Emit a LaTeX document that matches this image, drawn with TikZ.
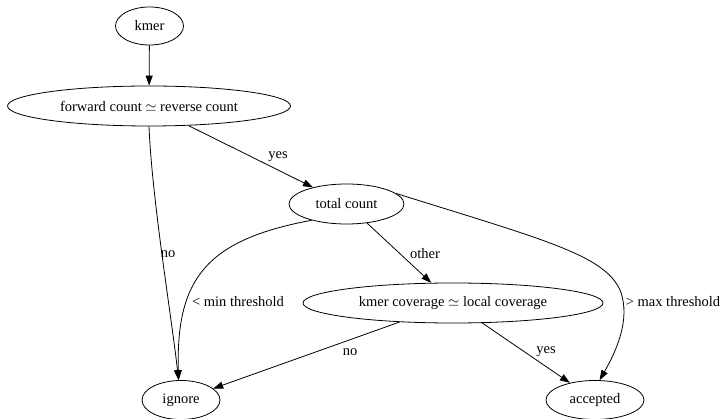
\documentclass[tikz,border=0pt]{standalone}
\usepackage{fontspec}
\setmainfont{Liberation Serif}
\usetikzlibrary{arrows.meta,shapes.geometric}
\begin{document}
\begin{tikzpicture}[x=1pt,y=-1pt,
  st/.style={ellipse,draw,line width=0.8pt,inner sep=0pt,font=\fontsize{14.5}{16}\selectfont},
  edge/.style={line width=0.8pt,-{Triangle[length=10pt,width=7pt]}},
  lbl/.style={font=\fontsize{14.5}{16}\selectfont,inner sep=0pt}]
\useasboundingbox (0,0) rectangle (727,419);
\node[st,minimum width=68pt,minimum height=38pt] (km) at (149.5,26) {kmer};
\node[st,minimum width=283pt,minimum height=40pt] (fw) at (149,106) {forward count $\simeq$ reverse count};
\node[st,minimum width=115pt,minimum height=40pt] (tc) at (346.5,204) {total count};
\node[st,minimum width=300pt,minimum height=40pt] (kc) at (453,303) {kmer coverage $\simeq$ local coverage};
\node[st,minimum width=98pt,minimum height=39pt] (ac) at (595,400) {accepted};
\node[st,minimum width=78pt,minimum height=39pt] (ig) at (181,400) {ignore};
\draw[edge] (km) -- (fw);
\draw[edge] (fw) -- (tc);
\node[lbl] (l1) at (278,157) {yes};
\draw[edge] (fw.south) .. controls (152,200) and (172,320) .. (ig.97);
\node[lbl] (l2) at (168,254) {no};
\draw[edge] (tc.205) .. controls (205,240) and (176,280) .. (ig.97);
\node[lbl] (l3) at (238,302) {< min threshold};
\draw[edge] (tc) -- (kc);
\node[lbl] (l4) at (425,254) {other};
\draw[edge] (tc.12) .. controls (545,240) and (604,255) .. (620,290) .. controls (632,320) and (614,355) .. (ac.77);
\node[lbl] (l5) at (673,302) {> max threshold};
\draw[edge] (kc) -- (ig);
\node[lbl] (l6) at (350,352) {no};
\draw[edge] (kc) -- (ac);
\node[lbl] (l7) at (546,352) {yes};
\end{tikzpicture}
\end{document}
